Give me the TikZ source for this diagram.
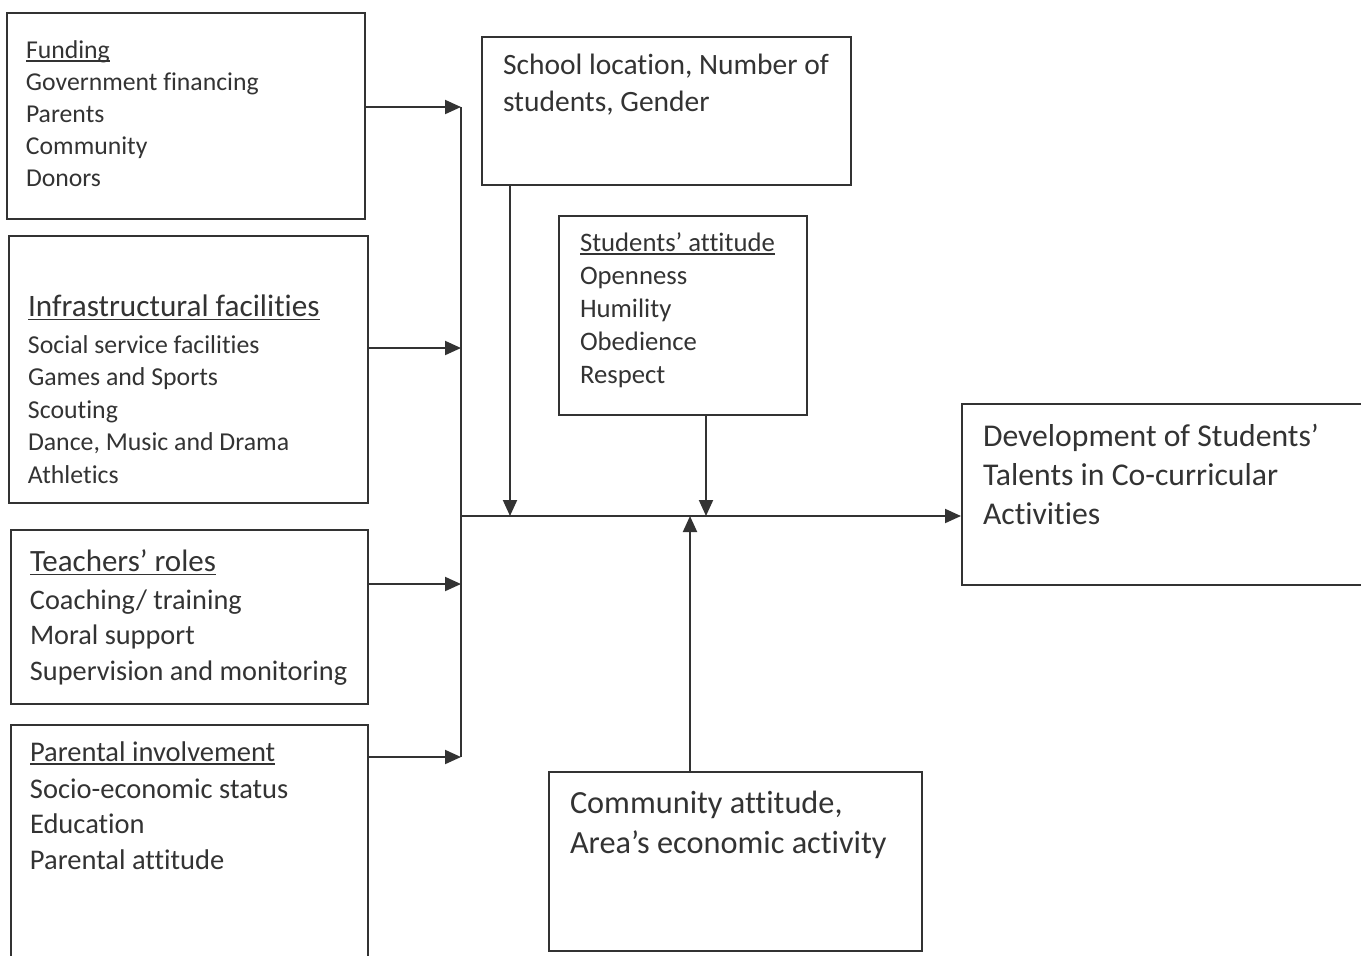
\documentclass[tikz,border=0pt]{standalone}
\usepackage{fontspec}
\setmainfont{Carlito}[Ligatures={TeX,NoCommon}]
\usetikzlibrary{arrows.meta}
\definecolor{ink}{gray}{0.2}
\newcommand{\ulword}[1]{\setbox0=\hbox{#1}\rlap{\rule[-0.14em]{\wd0}{0.055em}}\box0}
\newcommand{\boxtext}[5]{\parbox[c][#2][t]{#1}{\raggedright\leftskip=#3\relax\rule{0pt}{#4}#5}}

\begin{document}
\begin{tikzpicture}[x=0.5pt,y=-0.5pt,
    factor/.style={draw=ink,line width=1pt,anchor=north west,inner sep=0pt,text=ink},
    link/.style={draw=ink,line width=1pt,-{Triangle[length=8pt,width=7pt]}}]
    \useasboundingbox (0,0) rectangle (1361,955);
    \node[factor] (fund) at (6,12) {\boxtext{179pt}{103pt}{9.5pt}{22.5pt}{\fontsize{12.85}{16}\selectfont
        \ulword{Funding}\\Government financing\\Parents\\Community\\Donors}};
    \node[factor] (infra) at (8,235) {\boxtext{179.5pt}{133.5pt}{9.5pt}{40pt}{\fontsize{15.6}{18}\selectfont
        \ulword{Infrastructural facilities}\par\vspace{2.25pt}\fontsize{12.9}{16.25}\selectfont
        Social service facilities\\Games and Sports\\Scouting\\Dance, Music and Drama\\Athletics}};
    \node[factor] (teach) at (10,529) {\boxtext{178.5pt}{87pt}{9.5pt}{20.5pt}{\fontsize{15.5}{18}\selectfont
        \ulword{Teachers' roles}\par\vspace{1.25pt}\fontsize{14.15}{17.75}\selectfont
        Coaching/ training\\Moral support\\Supervision and monitoring}};
    \node[factor] (parent) at (10,724) {\boxtext{178.5pt}{122pt}{9.5pt}{18pt}{\fontsize{14.25}{17.75}\selectfont
        \ulword{Parental involvement}\par\vspace{0.75pt}
        Socio-economic status\\Education\\Parental attitude}};
    \node[factor] (school) at (481,36) {\boxtext{184.5pt}{74pt}{10.5pt}{18.5pt}{\fontsize{14.75}{18.5}\selectfont
        School location, Number of\\students, Gender}};
    \node[factor] (attit) at (558,215) {\boxtext{124pt}{99.5pt}{10.5pt}{17.5pt}{\fontsize{13.35}{16.5}\selectfont
        \ulword{Students' attitude}\\Openness\\Humility\\Obedience\\Respect}};
    \node[factor] (devel) at (961,403) {\boxtext{202pt}{90.5pt}{10.5pt}{21pt}{\fontsize{15.85}{19.5}\selectfont
        Development of Students'\\Talents in Co-curricular\\Activities}};
    \node[factor] (comm) at (548,771) {\boxtext{186.5pt}{89.5pt}{10.5pt}{20.5pt}{\fontsize{16.15}{20}\selectfont
        Community attitude,\\Area's economic activity}};
    \coordinate (in1) at (461,107);
    \coordinate (in2) at (461,348);
    \coordinate (in3) at (461,584);
    \coordinate (in4) at (461,757);
    \coordinate (hub) at (461,516);
    \coordinate (j1) at (510,516);
    \coordinate (j2) at (706,516);
    \coordinate (j3) at (690,516);
    \draw[ink,line width=1pt] (in1) -- (in4);
    \draw[link] (fund.east |- in1) -- (in1);
    \draw[link] (infra.east |- in2) -- (in2);
    \draw[link] (teach.east |- in3) -- (in3);
    \draw[link] (parent.east |- in4) -- (in4);
    \draw[link] (hub) -- (devel.west |- hub);
    \draw[link] (school.south -| j1) -- (j1);
    \draw[link] (attit.south -| j2) -- (j2);
    \draw[link] (comm.north -| j3) -- (j3);
\end{tikzpicture}
\end{document}
